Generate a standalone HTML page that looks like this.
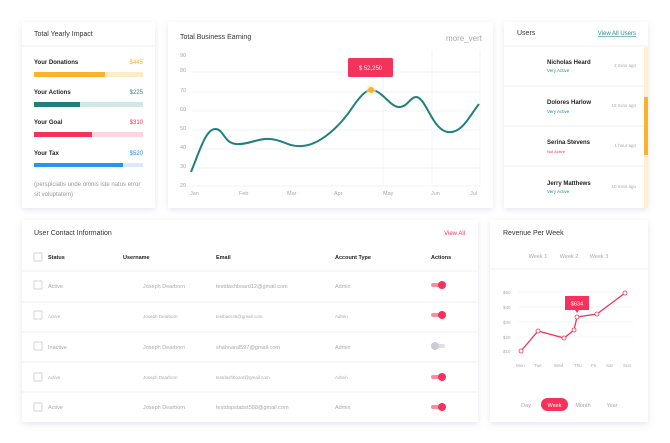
<!DOCTYPE html>
<html><head><meta charset="utf-8"><style>
html,body{margin:0;padding:0;background:#fff;width:670px;height:443px;overflow:hidden}
svg{display:block;font-family:"Liberation Sans",Arial,sans-serif}
</style></head><body>
<svg width="670" height="443" viewBox="0 0 670 443" xmlns="http://www.w3.org/2000/svg">
<defs>
<filter id="sh" x="-10%" y="-10%" width="120%" height="125%"><feDropShadow dx="0" dy="2" stdDeviation="3" flood-color="#9aa3c0" flood-opacity="0.25"/></filter>
</defs>
<rect width="670" height="443" fill="#fff"/>
<!-- cards -->
<g filter="url(#sh)" fill="#fff">
<rect x="22" y="22" width="133" height="186"/>
<rect x="168" y="22" width="325" height="186"/>
<rect x="504" y="22" width="144" height="186"/>
<rect x="22" y="220" width="456" height="202"/>
<rect x="490" y="220" width="158" height="202"/>
</g>
<!-- card1 -->
<text x="34" y="36" font-size="7" fill="#333">Total Yearly Impact</text>
<line x1="22" y1="46" x2="155" y2="46" stroke="#f0f1f5"/>
<g font-size="6" font-weight="bold" fill="#222">
<text x="34" y="64">Your Donations</text><text x="34" y="94">Your Actions</text><text x="34" y="124">Your Goal</text><text x="34" y="155">Your Tax</text></g>
<g font-size="6" text-anchor="end">
<text x="143" y="64" fill="#fbb32c">$445</text><text x="143" y="94" fill="#2a8a8a">$225</text><text x="143" y="124" fill="#f5325a">$310</text><text x="143" y="155" fill="#2196f3">$520</text></g>
<rect x="34" y="72" width="109" height="5" fill="#fdecc9"/><rect x="34" y="72" width="71" height="5" fill="#fbb32c"/>
<rect x="34" y="102" width="109" height="5" fill="#d3e7e6"/><rect x="34" y="102" width="46" height="5" fill="#1f7f7e"/>
<rect x="34" y="132" width="109" height="5" fill="#fcd6de"/><rect x="34" y="132" width="58" height="5" fill="#f5325a"/>
<rect x="34" y="163" width="109" height="4" fill="#dde9fb"/><rect x="34" y="163" width="89" height="4" fill="#2196f3"/>
<text x="34" y="186" font-size="6" fill="#999">(perspiciatis unde omnis iste natus error</text>
<text x="34" y="196" font-size="6" fill="#999">sit voluptatem)</text>
<!-- card2 -->
<text x="180" y="39" font-size="7" fill="#333">Total Business Earning</text>
<text x="482" y="41" font-size="8" fill="#aaa" text-anchor="end">more_vert</text>
<g stroke="#eef0f3" stroke-width="0.7">
<line x1="192" y1="72" x2="480" y2="72"/><line x1="192" y1="92" x2="480" y2="92"/><line x1="192" y1="111" x2="480" y2="111"/><line x1="192" y1="130" x2="480" y2="130"/><line x1="192" y1="149" x2="480" y2="149"/><line x1="192" y1="168" x2="480" y2="168"/><line x1="192" y1="186" x2="480" y2="186"/>
<line x1="383" y1="50" x2="383" y2="186"/><line x1="432" y1="50" x2="432" y2="186"/><line x1="480" y1="50" x2="480" y2="186"/>
</g>
<g font-size="5.5" fill="#aaa">
<text x="180" y="57">90</text><text x="180" y="72">80</text><text x="180" y="92">70</text><text x="180" y="111">60</text><text x="180" y="130">50</text><text x="180" y="149">40</text><text x="180" y="168">30</text><text x="180" y="187">20</text>
<text x="190" y="195">Jan</text><text x="239" y="195">Feb</text><text x="287" y="195">Mar</text><text x="334" y="195">Apr</text><text x="383" y="195">May</text><text x="431" y="195">Jun</text><text x="470" y="195">Jul</text></g>
<path d="M191,172 C200,150 206,128 216,129 C224,130 224,143 236,144 C248,145 258,138 270,139 C284,140 288,147 302,146 C320,145 340,126 352,108 C360,96 366,90 371,90 C382,90 390,107 399,107 C408,107 410,97 416,97 C426,97 432,130 448,132 C462,134 470,115 479,104" fill="none" stroke="#1f807d" stroke-width="2"/>
<circle cx="371" cy="90" r="5" fill="#fbe8c3" opacity="0.6"/><circle cx="371" cy="90" r="3" fill="#fbb32c"/>
<rect x="348" y="58" width="45" height="19" rx="1.5" fill="#f5325a"/>
<text x="370.5" y="70" font-size="6" fill="#fff" text-anchor="middle">$ 52,250</text>
<!-- card3 -->
<text x="517" y="35" font-size="7" fill="#333">Users</text>
<text x="636" y="35" font-size="6" fill="#2a8a8a" text-anchor="end" text-decoration="underline">View All Users</text>
<g stroke="#f0f1f5"><line x1="504" y1="46" x2="648" y2="46"/><line x1="504" y1="86" x2="644" y2="86"/><line x1="504" y1="126" x2="644" y2="126"/><line x1="504" y1="166" x2="644" y2="166"/></g>
<rect x="644" y="47" width="4" height="161" fill="#fdefd0"/><rect x="644" y="97" width="4" height="58" fill="#fbb32c"/>
<g font-size="6" font-weight="bold" fill="#222">
<text x="547" y="64">Nicholas Heard</text><text x="547" y="104">Dolores Harlow</text><text x="547" y="144">Serina Stevens</text><text x="547" y="185">Jerry Matthews</text></g>
<g font-size="4.5" fill="#2a8a8a"><text x="547" y="72">Very Active</text><text x="547" y="113">Very Active</text><text x="547" y="193">Very Active</text></g>
<text x="547" y="153" font-size="4" fill="#f5325a">Not Active</text>
<g font-size="4.5" fill="#aaa" text-anchor="end"><text x="636" y="67">2 mins ago</text><text x="636" y="107">15 mins ago</text><text x="636" y="147">1 hour ago</text><text x="636" y="188">10 mins ago</text></g>
<!-- card4 -->
<text x="34" y="235" font-size="7" fill="#333">User Contact Information</text>
<text x="465" y="235" font-size="6" fill="#f5325a" text-anchor="end">View All</text>
<g font-size="5.5" font-weight="bold" fill="#222"><text x="48" y="259">Status</text><text x="123" y="259">Username</text><text x="216" y="259">Email</text><text x="335" y="259">Account Type</text><text x="431" y="259">Actions</text></g>
<g stroke="#f0f1f5"><line x1="22" y1="271" x2="478" y2="271"/><line x1="22" y1="302" x2="478" y2="302"/><line x1="22" y1="332" x2="478" y2="332"/><line x1="22" y1="362" x2="478" y2="362"/><line x1="22" y1="392" x2="478" y2="392"/></g>
<g fill="none" stroke="#ccc" stroke-width="0.8"><rect x="34" y="253" width="8" height="8"/><rect x="34" y="281" width="8" height="8"/><rect x="34" y="311" width="8" height="8"/><rect x="34" y="342" width="8" height="8"/><rect x="34" y="373" width="8" height="8"/><rect x="34" y="403" width="8" height="8"/></g>
<g font-size="5.5" fill="#aaa">
<text x="48" y="288">Active</text><text x="143" y="288">Joseph Dearborn</text><text x="216" y="288">testdashboard12@gmail.com</text><text x="335" y="288">Admin</text>
<text x="48" y="318" font-size="4.5">Active</text><text x="143" y="318" font-size="4.5">Joseph Dearborn</text><text x="216" y="318" font-size="4.5">testbaer45@gmail.com</text><text x="335" y="318" font-size="4.5">Admin</text>
<text x="48" y="349">Inactive</text><text x="143" y="349">Joseph Dearborn</text><text x="216" y="349">shahnaral597@gmail.com</text><text x="335" y="349">Admin</text>
<text x="48" y="379" font-size="4.5">Active</text><text x="143" y="379" font-size="4.5">Joseph Dearborn</text><text x="216" y="379" font-size="4.5">testdashboard@gmail.com</text><text x="335" y="379" font-size="4.5">Admin</text>
<text x="48" y="409">Active</text><text x="143" y="409">Joseph Dearborn</text><text x="216" y="409">testdapstabst588@gmail.com</text><text x="335" y="409">Admin</text></g>
<g><rect x="431" y="283" width="12" height="4" rx="2" fill="#f98ba2"/><circle cx="442" cy="285" r="4" fill="#f5325a"/>
<rect x="431" y="313" width="12" height="4" rx="2" fill="#f98ba2"/><circle cx="442" cy="315" r="4" fill="#f5325a"/>
<rect x="433" y="344" width="12" height="4" rx="2" fill="#dde0e6"/><circle cx="435" cy="346" r="4" fill="#c9cdd6"/>
<rect x="431" y="375" width="12" height="4" rx="2" fill="#f98ba2"/><circle cx="442" cy="377" r="4" fill="#f5325a"/>
<rect x="431" y="405" width="12" height="4" rx="2" fill="#f98ba2"/><circle cx="442" cy="407" r="4" fill="#f5325a"/></g>
<!-- card5 -->
<text x="503" y="235" font-size="7" fill="#333">Revenue Per Week</text>
<g font-size="5.5" fill="#aaa" text-anchor="middle"><text x="538" y="258">Week 1</text><text x="569" y="258">Week 2</text><text x="599" y="258">Week 3</text></g>
<line x1="490" y1="269" x2="648" y2="269" stroke="#f0f1f5"/>
<g stroke="#f0f1f5" stroke-width="0.7"><line x1="518" y1="292" x2="633" y2="292"/><line x1="518" y1="307" x2="633" y2="307"/><line x1="518" y1="322" x2="633" y2="322"/><line x1="518" y1="337" x2="633" y2="337"/></g>
<g font-size="4.5" fill="#aaa"><text x="503" y="294">$50</text><text x="503" y="309">$40</text><text x="503" y="324">$30</text><text x="503" y="339">$20</text><text x="503" y="353">$10</text>
<text x="516" y="367">Mon</text><text x="534" y="367">Tue</text><text x="554" y="367">Wed</text><text x="574" y="367">Thu</text><text x="591" y="367">Fri</text><text x="606" y="367">Sat</text><text x="623" y="367">Sun</text></g>
<polyline points="521,351 538,331 564,338 574,330 577,317 597,314 625,293" fill="none" stroke="#f5325a" stroke-width="1.3"/>
<g fill="#fff" stroke="#f5325a" stroke-width="0.8"><circle cx="521" cy="351" r="2"/><circle cx="538" cy="331" r="2"/><circle cx="564" cy="338" r="2"/><circle cx="574" cy="330" r="2"/><circle cx="577" cy="317" r="2"/><circle cx="597" cy="314" r="2"/><circle cx="625" cy="293" r="2"/></g>
<rect x="565" y="296" width="24" height="14" fill="#f5325a"/><path d="M575,310 L577,313 L579,310Z" fill="#f5325a"/>
<text x="577" y="305.5" font-size="5.5" fill="#fff" text-anchor="middle">$634</text>
<rect x="541" y="398" width="27" height="13" rx="6.5" fill="#f5325a"/>
<g font-size="5.5" text-anchor="middle"><text x="526" y="407" fill="#aaa">Day</text><text x="554.5" y="407" fill="#fff">Week</text><text x="583" y="407" fill="#aaa">Month</text><text x="612" y="407" fill="#aaa">Year</text></g>
</svg>
</body></html>
